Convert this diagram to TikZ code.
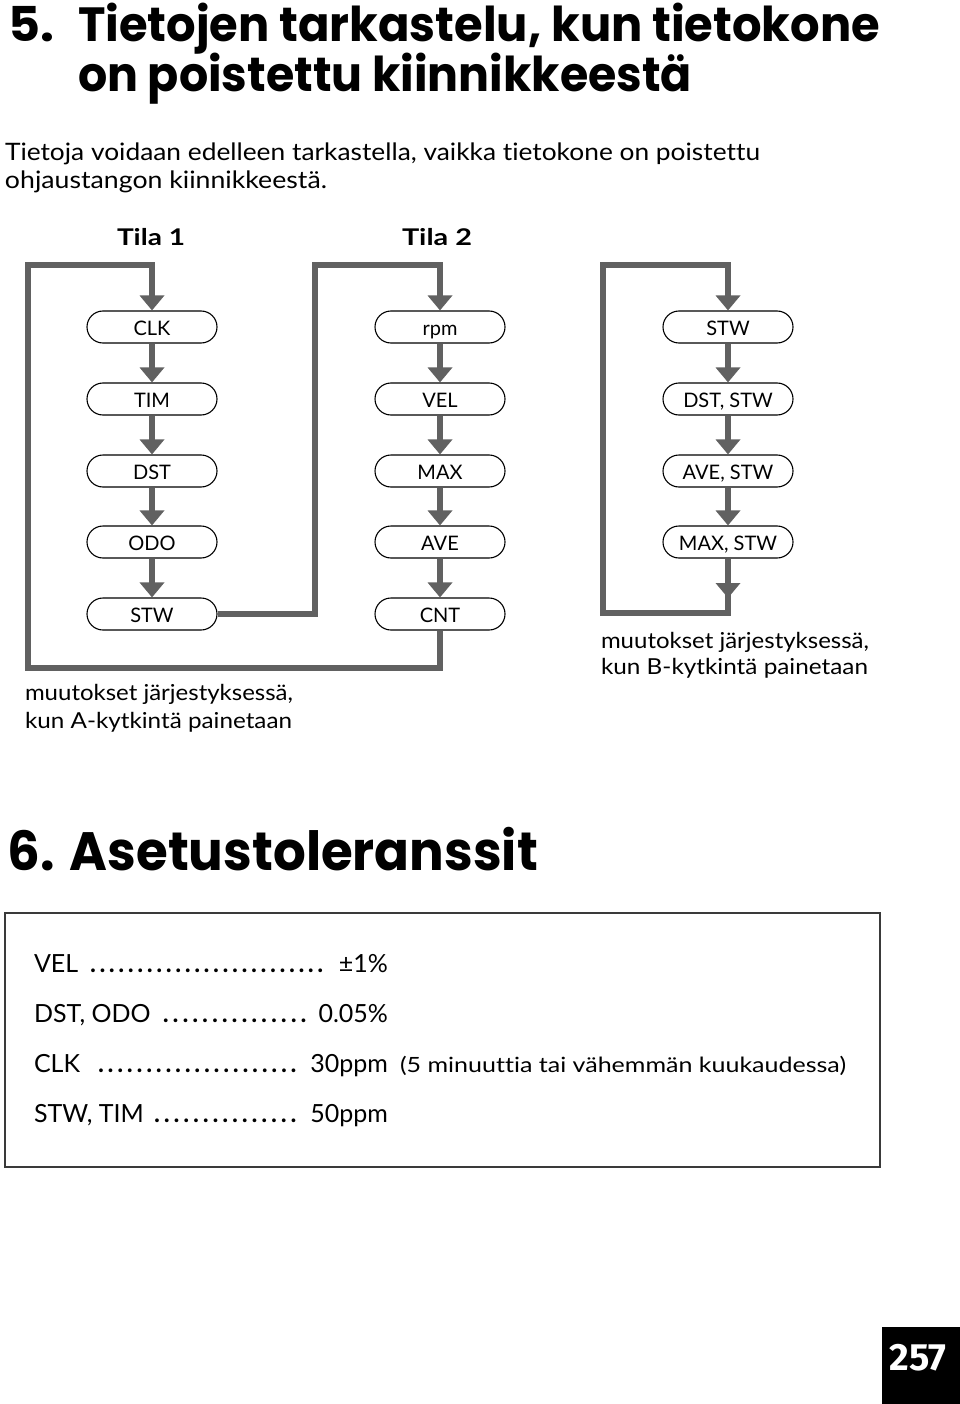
\documentclass[tikz,border=0pt]{standalone}
\usepackage{fontspec}
\usepackage{graphicx}
\usetikzlibrary{arrows.meta}
\setmainfont{Lato}[Ligatures=NoCommon]
\newfontfamily\titlefont{Poppins}[Ligatures=NoCommon]
\newfontfamily\labfont{Lato}[Ligatures=NoCommon]
\newfontfamily\pgfont{Fira Sans}
\newcommand\fitw[2]{\resizebox{#1}{\height}{#2}}
\newcommand\lead{\xleaders\hbox to 9.3pt{\hss\textbf{.}\hss}\hfill}
\definecolor{flowgray}{HTML}{616161}
\definecolor{boxgray}{HTML}{3A3A3A}
\tikzset{
  txt/.style={anchor=base west, inner sep=0pt, outer sep=0pt},
  stepbox/.style={draw=black, line width=1.1pt, rounded corners=16pt, minimum width=130pt, minimum height=32pt, inner sep=0pt, text height=17pt, text depth=1pt, font=\labfont\fontsize{20}{20}\selectfont, fill=white},
  flow/.style={draw=flowgray, line width=6pt, line join=miter},
  flowarrow/.style={flow, -{Triangle[width=24pt,length=15pt]}},
  rowtxt/.style={txt, font=\fontsize{25}{25}\selectfont},
}
\begin{document}
\begin{tikzpicture}[x=1pt,y=-1pt]
\useasboundingbox (0,0) rectangle (960,1404);
% titles
\node[txt] (title0) at (8,42) {\fitw{46pt}{\titlefont\bfseries\fontsize{48}{48}\selectfont 5.}};
\node[txt] (title1) at (78,42) {\fitw{802pt}{\titlefont\bfseries\fontsize{48}{48}\selectfont Tietojen tarkastelu, kun tietokone}};
\node[txt] (title2) at (78,92) {\fitw{614pt}{\titlefont\bfseries\fontsize{48}{48}\selectfont on poistettu kiinnikkeestä}};
\node[txt] (body1) at (5,161) {\fitw{755pt}{\fontsize{24}{24}\selectfont Tietoja voidaan edelleen tarkastella, vaikka tietokone on poistettu}};
\node[txt] (body2) at (5,189) {\fitw{322pt}{\fontsize{24}{24}\selectfont ohjaustangon kiinnikkeestä.}};
\node[txt] (tila1) at (117,246) {\fitw{68pt}{\labfont\bfseries\fontsize{23}{23}\selectfont Tila 1}};
\node[txt] (tila2) at (402,246) {\fitw{70pt}{\labfont\bfseries\fontsize{23}{23}\selectfont Tila 2}};
% column 1
\node[stepbox] (a1) at (152,327) {CLK};
\node[stepbox] (a2) at (152,399) {TIM};
\node[stepbox] (a3) at (152,471) {DST};
\node[stepbox] (a4) at (152,542) {ODO};
\node[stepbox] (a5) at (152,614) {STW};
% column 2
\node[stepbox] (b1) at (440,327) {rpm};
\node[stepbox] (b2) at (440,399) {VEL};
\node[stepbox] (b3) at (440,471) {MAX};
\node[stepbox] (b4) at (440,542) {AVE};
\node[stepbox] (b5) at (440,614) {CNT};
% column 3
\node[stepbox] (c1) at (728,327) {STW};
\node[stepbox] (c2) at (728,399) {DST, STW};
\node[stepbox] (c3) at (728,471) {AVE, STW};
\node[stepbox] (c4) at (728,542) {MAX, STW};
% chain arrows
\foreach \p/\q in {a1/a2,a2/a3,a3/a4,a4/a5,b1/b2,b2/b3,b3/b4,b4/b5,c1/c2,c2/c3,c3/c4}
  \draw[flowarrow] (\p.south) -- (\q.north);
% loop coordinates
\coordinate (l1a) at (440,668);
\coordinate (l1b) at (28,668);
\coordinate (l1c) at (28,265);
\coordinate (l1d) at (152,265);
\coordinate (l2a) at (315,614);
\coordinate (l2b) at (315,265);
\coordinate (l2c) at (440,265);
\coordinate (l3tip) at (728,598);
\coordinate (l3a) at (728,613);
\coordinate (l3b) at (603,613);
\coordinate (l3c) at (603,265);
\coordinate (l3d) at (728,265);
% loop A
\draw[flowarrow] (b5.south) -- (l1a) -- (l1b) -- (l1c) -- (l1d) -- (a1.north);
% loop A2
\draw[flowarrow] (a5.east) -- (l2a) -- (l2b) -- (l2c) -- (b1.north);
% loop B
\draw[flow] (c4.south) -- (l3a) -- (l3b) -- (l3c) -- (l3d) -- ([yshift=-16pt]l3d);
\draw[flowarrow] (l3d) -- (c1.north);
\draw[flowarrow] (c4.south) -- (l3tip);
% captions
\node[txt] (capA1) at (25,700) {\fitw{268pt}{\labfont\fontsize{22}{22}\selectfont muutokset järjestyksessä,}};
\node[txt] (capA2) at (25,728) {\fitw{267pt}{\labfont\fontsize{22}{22}\selectfont kun A-kytkintä painetaan}};
\node[txt] (capB1) at (601,648) {\fitw{268pt}{\labfont\fontsize{22}{22}\selectfont muutokset järjestyksessä,}};
\node[txt] (capB2) at (601,674) {\fitw{267pt}{\labfont\fontsize{22}{22}\selectfont kun B-kytkintä painetaan}};
% section 6
\node[txt] (sec6) at (8,870) {\fitw{530pt}{\titlefont\bfseries\fontsize{54}{54}\selectfont 6. Asetustoleranssit}};
\draw[draw=boxgray, line width=2pt] (5,913) rectangle (880,1167);
\node[rowtxt] (r1) at (34,972) {\hbox to 354pt{VEL\hspace{10pt}\lead\hspace{14pt}±1\%}};
\node[rowtxt] (r2) at (34,1022) {\hbox to 354pt{DST, ODO\hspace{10pt}\lead\hspace{10pt}0.05\%}};
\node[rowtxt] (r3) at (34,1072) {\hbox to 354pt{CLK\hspace{16pt}\lead\hspace{12pt}30ppm}};
\node[txt] (r3n) at (400,1072) {\fitw{446pt}{\fontsize{21}{21}\selectfont (5 minuuttia tai vähemmän kuukaudessa)}};
\node[rowtxt] (r4) at (34,1122) {\hbox to 354pt{STW, TIM\hspace{8pt}\lead\hspace{12pt}50ppm}};
% page number
\fill[black] (882,1327) rectangle (960,1404);
\node[anchor=base, inner sep=0pt, text=white] (pg) at (918,1370) {\pgfont\bfseries\fontsize{38}{38}\selectfont 257};
\end{tikzpicture}
\end{document}
